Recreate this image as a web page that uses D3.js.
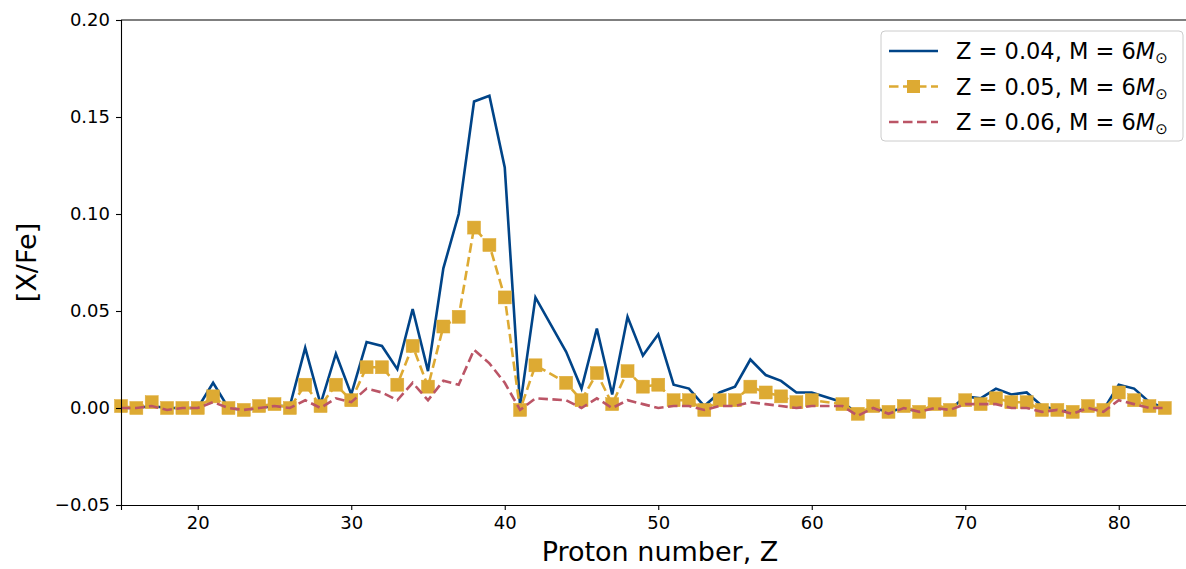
<!DOCTYPE html>
<html>
<head>
<meta charset="utf-8">
<script src="https://cdn.jsdelivr.net/npm/d3@7"></script>
<style>
  body { margin: 0; background: #fff; }
  svg text { font-family: "DejaVu Sans", sans-serif; }
  .tick text { font-size: 18px; fill: #000; }
</style>
</head>
<body>
<div id="chart"></div>
<script>
// proton numbers (Tc 43 and Pm 61 are absent)
const protonZ = [15, 16, 17, 18, 19, 20, 21, 22, 23, 24, 25, 26, 27, 28, 29, 30, 31, 32, 33, 34,
  35, 36, 37, 38, 39, 40, 41, 42, 44, 45, 46, 47, 48, 49, 50, 51, 52, 53, 54, 55,
  56, 57, 58, 59, 60, 62, 63, 64, 65, 66, 67, 68, 69, 70, 71, 72, 73, 74, 75, 76,
  77, 78, 79, 80, 81, 82, 83];

const xfeZ004 = [0.000, 0.000, 0.001, 0.000, 0.000, 0.000, 0.013, 0.000, -0.001, 0.000, 0.001, 0.001, 0.031, 0.002, 0.028, 0.007, 0.034, 0.032, 0.020, 0.051,
  0.019, 0.072, 0.100, 0.158, 0.161, 0.124, 0.001, 0.057, 0.029, 0.010, 0.041, 0.007, 0.047, 0.027, 0.038, 0.012, 0.010, 0.001, 0.008, 0.011,
  0.025, 0.017, 0.014, 0.008, 0.008, 0.003, -0.003, 0.000, -0.002, 0.000, -0.002, 0.001, -0.001, 0.006, 0.005, 0.010, 0.007, 0.008, 0.001, -0.001,
  -0.002, 0.000, -0.001, 0.012, 0.010, 0.003, 0.000];

const xfeZ005 = [0.001, 0.000, 0.003, 0.000, 0.000, 0.000, 0.006, 0.000, -0.001, 0.001, 0.002, 0.000, 0.012, 0.001, 0.012, 0.004, 0.021, 0.021, 0.012, 0.032,
  0.011, 0.042, 0.047, 0.093, 0.084, 0.057, -0.001, 0.022, 0.013, 0.004, 0.018, 0.002, 0.019, 0.011, 0.012, 0.004, 0.004, -0.001, 0.004, 0.004,
  0.011, 0.008, 0.006, 0.003, 0.004, 0.002, -0.003, 0.001, -0.002, 0.001, -0.002, 0.002, -0.001, 0.004, 0.002, 0.005, 0.003, 0.003, -0.001, -0.001,
  -0.002, 0.001, -0.001, 0.008, 0.004, 0.001, 0.000];

const xfeZ006 = [0.000, 0.000, 0.001, -0.001, 0.000, 0.000, 0.003, 0.000, -0.001, 0.000, 0.001, 0.000, 0.004, 0.000, 0.005, 0.003, 0.010, 0.008, 0.004, 0.013,
  0.004, 0.014, 0.012, 0.030, 0.023, 0.013, -0.001, 0.005, 0.004, 0.000, 0.005, 0.000, 0.004, 0.002, 0.000, 0.001, 0.001, -0.001, 0.001, 0.001,
  0.003, 0.002, 0.001, 0.000, 0.001, 0.001, -0.004, 0.000, -0.003, 0.000, -0.002, 0.000, -0.001, 0.002, 0.002, 0.002, 0.000, 0.000, -0.002, -0.001,
  -0.003, 0.000, -0.002, 0.004, 0.002, 0.000, 0.000];

const seriesLabels = ["Z = 0.04, M = 6", "Z = 0.05, M = 6", "Z = 0.06, M = 6"];
const xTicks = [20, 30, 40, 50, 60, 70, 80];
const yTicks = [-0.05, 0.00, 0.05, 0.10, 0.15, 0.20];

const width = 1186, height = 569;
const margin = {top: 20, right: -9.5, bottom: 64, left: 121};

const x = d3.scaleLinear()
  .domain([15, 85])
  .range([margin.left, width - margin.right]);

const y = d3.scaleLinear()
  .domain([-0.05, 0.20])
  .range([height - margin.bottom, margin.top]);

const svg = d3.select("#chart")
  .append("svg")
  .attr("width", width)
  .attr("height", height);

const series = [
  {values: xfeZ004, color: "#004488", dash: null, marker: false},
  {values: xfeZ005, color: "#DDAA33", dash: "9.5,4.5", marker: true},
  {values: xfeZ006, color: "#BB5566", dash: "9.5,4.5", marker: false}
];

const line = d3.line()
  .x(d => x(d[0]))
  .y(d => y(d[1]));

series.forEach(s => {
  const pts = protonZ.map((z, i) => [z, s.values[i]]);
  svg.append("path")
      .datum(pts)
      .attr("fill", "none")
      .attr("stroke", s.color)
      .attr("stroke-width", 2.6)
      .attr("stroke-linejoin", "miter")
      .attr("stroke-dasharray", s.dash)
      .attr("d", line);
  if (s.marker) {
    svg.append("g")
      .selectAll("rect")
      .data(pts)
      .join("rect")
        .attr("x", d => x(d[0]) - 6.5)
        .attr("y", d => y(d[1]) - 6.5)
        .attr("width", 13)
        .attr("height", 13)
        .attr("fill", s.color)
        .attr("stroke", s.color)
        .attr("stroke-width", 0.5);
  }
});

// axes
const xAxis = g => g
  .attr("transform", `translate(0,${y(-0.05)})`)
  .call(d3.axisBottom(x).tickValues(xTicks).tickSize(5).tickPadding(6))
  .attr("font-family", null).attr("font-size", null)
  .call(g => g.select(".domain").attr("stroke-width", 1.1))
  .call(g => g.selectAll(".tick line").attr("stroke-width", 1.1));

const fmt = d => d3.format(".2f")(d).replace("-", "\u2212");

const yAxis = g => g
  .attr("transform", `translate(${margin.left},0)`)
  .call(d3.axisLeft(y).tickValues(yTicks).tickFormat(fmt).tickSize(5).tickPadding(6))
  .attr("font-family", null).attr("font-size", null)
  .call(g => g.select(".domain").attr("stroke-width", 1.1))
  .call(g => g.selectAll(".tick line").attr("stroke-width", 1.1));

svg.append("g").call(xAxis);
svg.append("g").call(yAxis);

// top spine
svg.append("line")
    .attr("x1", x(15)).attr("x2", x(85))
    .attr("y1", y(0.20)).attr("y2", y(0.20))
    .attr("stroke", "#000")
    .attr("stroke-width", 1.1);

svg.append("text")
    .attr("x", 660)
    .attr("y", 561)
    .attr("text-anchor", "middle")
    .style("font-size", "27px")
    .text("Proton number, Z");

svg.append("text")
    .attr("transform", `translate(36,${y(0.075)}) rotate(-90)`)
    .attr("text-anchor", "middle")
    .style("font-size", "27px")
    .text("[X/Fe]");

// legend
const legend = svg.append("g").attr("transform", "translate(881,31)");
legend.append("rect")
    .attr("width", 302)
    .attr("height", 110)
    .attr("rx", 4)
    .attr("fill", "#fff")
    .attr("fill-opacity", 0.8)
    .attr("stroke", "#ccc")
    .attr("stroke-width", 1);

series.forEach((s, i) => {
  const ly = 20 + i * 35.5;
  const row = legend.append("g").attr("transform", `translate(0,${ly})`);
  row.append("line")
      .attr("x1", 8).attr("x2", 57)
      .attr("stroke", s.color)
      .attr("stroke-width", 2.6)
      .attr("stroke-dasharray", s.dash);
  if (s.marker) {
    row.append("rect")
        .attr("x", 26).attr("y", -6.5)
        .attr("width", 13).attr("height", 13)
        .attr("fill", s.color);
  }
  const t = row.append("text")
      .attr("x", 75)
      .attr("y", 8)
      .style("font-size", "22.5px")
      .text(seriesLabels[i]);
  t.append("tspan").attr("font-style", "italic").text("M");
  t.append("tspan").style("font-size", "15px").attr("dy", 4).text("\u2299");
});
</script>
</body>
</html>
